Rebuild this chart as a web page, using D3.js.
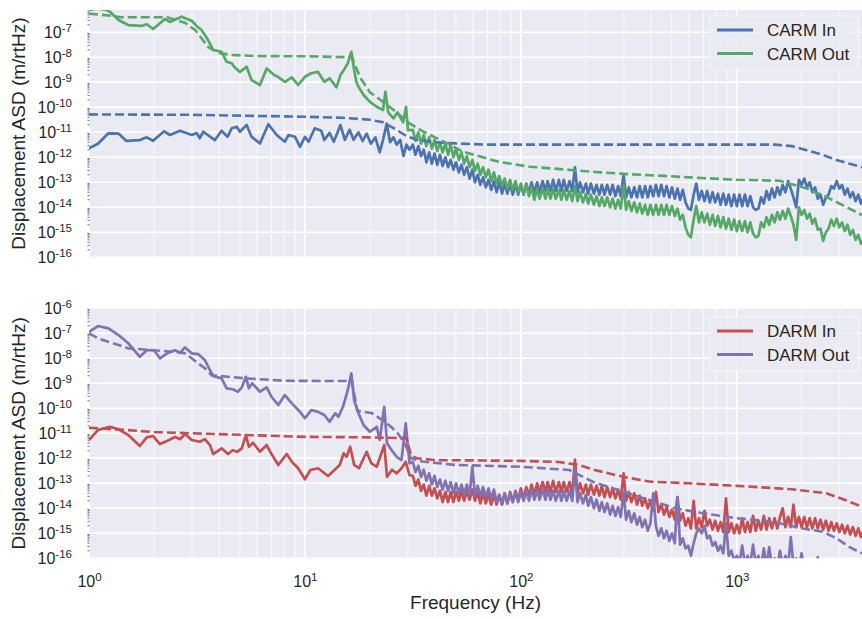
<!DOCTYPE html>
<html>
<head>
<meta charset="utf-8">
<script src="https://cdn.jsdelivr.net/npm/d3@7"></script>
<style>
  body { margin: 0; background: #fff; }
  svg { display: block; }
  text { font-family: "Liberation Sans", Arial, sans-serif; fill: #262626; }
</style>
</head>
<body>
<svg id="chart" width="862" height="619"></svg>
<script>
// ---- Data: amplitude spectral densities (m/rtHz) vs frequency (Hz) ----

// Shared frequency bins for the dense high-frequency part of the measured spectra
const hfFreq = [31.6,32.5,33.5,34.5,35.5,36.5,37.6,38.7,39.8,41.0,
  42.2,43.4,44.7,46.0,47.3,48.7,50.1,51.6,53.1,54.6,
  56.2,57.9,59.6,61.3,63.1,64.9,66.8,68.8,70.8,72.9,
  75.0,77.2,79.4,81.8,84.1,86.6,89.1,91.7,94.4,97.2,
  100,103,106,109,112,115.5,119,122,126,130,
  133,137,141,145,150,154,158,163,168,173,
  178,183,188,194,200,205,211,218,224,231,
  237,244,251,259,266,274,282,290,299,307,
  316,325,335,345,355,365,376,387,398,410,
  422,434,447,460,473,487,501,516,531,546,
  562,579,596,613,631,649,668,688,708,729,
  750,772,794,818,841,866,891,917,944,972,
  1000,1029,1059,1090,1122,1155,1189,1223,1259,1296,
  1334,1372,1413,1454,1496,1540,1585,1631,1679,1728,
  1778,1830,1884,1939,1995,2054,2113,2175,2239,2304,
  2371,2441,2512,2585,2661,2738,2818,2901,2985,3073,
  3162,3255,3350,3447,3548,3652,3758,3868,3981];

// CARM In — measured, low-frequency part [Hz, ASD]
const carmInLow = [[1,2.3e-12],[1.1,3.5e-12],[1.23,9.1e-12],[1.37,8.9e-12],[1.49,4.5e-12],[1.72,4.9e-12],
  [1.85,6.3e-12],[1.98,4.6e-12],[2.23,1.1e-11],[2.37,7.8e-12],[2.64,1.15e-11],[2.99,7.8e-12],[3.15,9.3e-12],
  [3.26,5.8e-12],[3.38,1.05e-11],[3.83,4.9e-12],[4.11,1.15e-11],[4.38,6.6e-12],[4.58,1.45e-11],[4.83,1.66e-11],
  [5.0,1.05e-11],[5.37,1.95e-11],[5.66,6.6e-12],[6.19,3.6e-12],[6.77,2.1e-11],[7.4,7.8e-12],[8.07,4.2e-12],
  [8.4,7.8e-12],[8.99,6.6e-12],[9.49,2.6e-12],[10,6.6e-12],[10.4,4.2e-12],[11.1,1.45e-11],[11.9,1.15e-11],
  [12.3,4.9e-12],[13.0,9.5e-12],[13.6,4.2e-12],[14.2,1.05e-11],[14.6,1.95e-11],[15.3,5.0e-12],[16.1,1.26e-11],
  [16.8,5.0e-12],[17.7,1.0e-11],[18.5,4.5e-12],[19.3,8.9e-12],[20.2,3.5e-12],[21.2,6.3e-12],[22.2,1.58e-12],
  [23.0,5.0e-12],[23.9,2.2e-11],[24.8,4.0e-12],[25.7,6.3e-12],[26.6,3.2e-12],[27.6,5.0e-12],[28.6,1.12e-12],
  [29.5,3.2e-12],[30.5,2.0e-12]];
// CARM In — measured, on hfFreq bins
const carmInHigh = [3.2e-12,1.26e-12,2.8e-12,1.12e-12,2.0e-12,6.3e-13,1.58e-12,5.6e-13,1.41e-12,5.0e-13,
  1.26e-12,4.5e-13,1.0e-12,4.0e-13,7.9e-13,3.2e-13,6.3e-13,2.5e-13,5.0e-13,2.0e-13,
  4.0e-13,1.41e-13,3.2e-13,1.0e-13,2.0e-13,7.9e-14,1.58e-13,6.3e-14,1.26e-13,5.0e-14,
  1.12e-13,4.0e-14,1.0e-13,3.5e-14,8.9e-14,3.5e-14,8.9e-14,3.2e-14,7.9e-14,3.2e-14,
  7.9e-14,3.2e-14,8.9e-14,3.5e-14,1.0e-13,4.0e-14,1.0e-13,4.0e-14,1.12e-13,4.5e-14,
  1.12e-13,4.5e-14,1.26e-13,4.5e-14,1.26e-13,4.5e-14,1.26e-13,4.5e-14,1.12e-13,4.5e-14,
  4.0e-13,4.0e-14,1.0e-13,4.0e-14,8.9e-14,3.5e-14,8.9e-14,3.5e-14,7.9e-14,3.2e-14,
  7.9e-14,3.2e-14,7.9e-14,3.2e-14,7.9e-14,2.8e-14,7.1e-14,2.8e-14,2.0e-13,2.5e-14,
  6.3e-14,2.5e-14,6.3e-14,2.5e-14,7.1e-14,2.5e-14,7.1e-14,2.5e-14,7.1e-14,2.8e-14,
  7.9e-14,2.8e-14,7.9e-14,2.8e-14,7.1e-14,2.5e-14,6.3e-14,2.2e-14,5.6e-14,2.0e-14,
  5.0e-14,1.58e-14,8.9e-15,7.9e-15,3.2e-14,8.9e-14,2.0e-14,4.5e-14,1.78e-14,4.5e-14,
  1.58e-14,4.0e-14,1.58e-14,3.5e-14,1.26e-14,3.5e-14,1.26e-14,3.2e-14,1.12e-14,3.2e-14,
  1.12e-14,3.2e-14,1.12e-14,3.2e-14,1.12e-14,2.8e-14,1.0e-14,7.9e-15,8.9e-15,2.5e-14,
  1.41e-14,4.5e-14,2.0e-14,5.6e-14,2.5e-14,6.3e-14,3.2e-14,7.9e-14,4.0e-14,1.12e-13,
  5.6e-14,2.5e-14,1.0e-14,1.26e-13,7.9e-14,1.41e-13,6.3e-14,1.0e-13,4.0e-14,6.3e-14,
  2.2e-14,3.2e-14,1.26e-14,2.5e-14,3.2e-14,7.1e-14,5.6e-14,1.12e-13,5.6e-14,7.9e-14,
  3.2e-14,5.6e-14,2.5e-14,4.0e-14,1.78e-14,3.2e-14,1.41e-14,2.5e-14,1.26e-14];
// CARM In — model (dashed)
const carmInModel = [[1,5.2e-11],[3,5.0e-11],[10,4.2e-11],[15,3.8e-11],[20,3.2e-11],[23,2.5e-11],[26,1.4e-11],
  [29.5,7.1e-12],[33,5.0e-12],[40,4.0e-12],[50,3.6e-12],[70,3.2e-12],[1500,3.2e-12],[1800,2.8e-12],
  [2090,1.95e-12],[2500,1.26e-12],[2890,7.8e-13],[3300,5.6e-13],[3800,4.0e-13]];

// CARM Out — measured, low-frequency part
const carmOutLow = [[1,7.9e-7],[1.1,8.9e-7],[1.2,7.9e-7],[1.25,6.6e-7],[1.37,3.1e-7],[1.52,1.95e-7],[1.75,1.8e-7],
  [1.85,2.1e-7],[1.98,1.35e-7],[2.25,3.4e-7],[2.37,2.6e-7],[2.68,4.2e-7],[2.99,2.9e-7],[3.15,1.8e-7],
  [3.32,1.23e-7],[3.56,4.9e-8],[3.76,1.95e-8],[4.11,1.66e-8],[4.34,6.6e-9],[4.58,5.8e-9],[4.7,4.2e-9],
  [5.0,2.6e-9],[5.37,4.2e-9],[5.66,1.23e-9],[6.19,7.8e-10],[6.65,3.6e-9],[7.2,1.95e-9],[7.5,1.66e-9],
  [8.07,1.05e-9],[8.7,1.58e-9],[9.3,7.8e-10],[10,1.66e-9],[10.7,2.3e-9],[11.5,2.6e-9],[12.3,1.05e-9],
  [13.0,1.45e-9],[14.0,6.3e-10],[14.6,1.95e-9],[15.3,3.6e-9],[15.8,5.8e-9],[16.4,1.66e-8],[16.9,3.2e-9],
  [17.3,1.05e-9],[17.7,6.6e-10],[18.7,3.1e-10],[20,1.66e-10],[21.5,1.05e-10],[23.0,7.8e-11],[23.6,4.2e-10],
  [24.3,6.3e-11],[25.7,3.6e-11],[26.8,6.3e-11],[28.5,2.5e-11],[29.4,1.05e-10],[30.0,1.23e-11]];
// CARM Out — measured, on hfFreq bins
const carmOutHigh = [1.26e-11,4.5e-12,1.0e-11,3.5e-12,7.9e-12,2.8e-12,6.3e-12,2.2e-12,5.0e-12,1.78e-12,
  4.0e-12,1.58e-12,3.5e-12,1.26e-12,3.2e-12,1.0e-12,2.2e-12,7.9e-13,1.58e-12,5.6e-13,
  1.12e-12,4.0e-13,7.9e-13,2.8e-13,5.6e-13,2.0e-13,4.0e-13,1.58e-13,3.2e-13,1.12e-13,
  2.5e-13,8.9e-14,1.78e-13,7.1e-14,1.41e-13,5.6e-14,1.26e-13,5.0e-14,1.12e-13,4.0e-14,
  8.9e-14,3.5e-14,7.9e-14,2.8e-14,6.3e-14,2.0e-14,5.6e-14,2.2e-14,5.6e-14,2.2e-14,
  5.6e-14,2.2e-14,5.6e-14,2.2e-14,5.0e-14,2.0e-14,5.0e-14,2.0e-14,4.5e-14,1.78e-14,
  7.1e-14,1.78e-14,4.0e-14,1.58e-14,3.5e-14,1.41e-14,3.2e-14,1.26e-14,2.8e-14,1.12e-14,
  2.5e-14,1.12e-14,2.5e-14,1.0e-14,2.2e-14,8.9e-15,2.0e-14,8.9e-15,7.9e-14,7.9e-15,
  1.78e-14,7.1e-15,1.58e-14,6.3e-15,1.41e-14,5.6e-15,1.26e-14,5.0e-15,1.26e-14,5.0e-15,
  1.26e-14,5.0e-15,1.26e-14,5.0e-15,1.26e-14,5.0e-15,1.12e-14,4.5e-15,8.9e-15,3.2e-15,
  5.0e-15,1.58e-15,7.9e-16,6.3e-16,3.2e-15,1.12e-14,2.5e-15,6.3e-15,2.5e-15,5.6e-15,
  2.0e-15,5.0e-15,1.78e-15,4.5e-15,1.58e-15,4.0e-15,1.41e-15,3.5e-15,1.26e-15,3.2e-15,
  1.12e-15,2.8e-15,1.12e-15,2.8e-15,1.0e-15,2.5e-15,8.9e-16,6.3e-16,7.1e-16,2.5e-15,
  1.58e-15,4.0e-15,2.0e-15,5.0e-15,2.5e-15,6.3e-15,3.2e-15,7.1e-15,3.5e-15,8.9e-15,
  4.5e-15,2.0e-15,5.0e-16,1.0e-14,5.0e-15,7.9e-15,3.5e-15,5.6e-15,2.2e-15,3.5e-15,
  1.26e-15,1.41e-15,4.5e-16,1.0e-15,1.41e-15,3.2e-15,1.78e-15,3.5e-15,1.58e-15,2.5e-15,
  1.12e-15,2.0e-15,7.9e-16,1.26e-15,5.0e-16,7.9e-16,3.5e-16,5.0e-16,2.5e-16];
// CARM Out — model (dashed)
const carmOutModel = [[1,5.6e-7],[1.3,4.5e-7],[1.4,4.0e-7],[2.3,4.0e-7],[2.59,2.9e-7],[2.78,2.4e-7],[3.1,1.23e-7],
  [3.32,5.8e-8],[3.56,2.6e-8],[4.0,1.5e-8],[4.58,1.23e-8],[6,1.12e-8],[10,1.1e-8],[16.5,1.0e-8],[18,1.58e-9],
  [20,4.0e-10],[22,2.2e-10],[24.8,1.0e-10],[26.5,6.3e-11],[30,2.5e-11],[35,1.12e-11],[40,6.3e-12],[47,3.2e-12],
  [54,1.66e-12],[79,6.6e-13],[110,4.2e-13],[157,3.3e-13],[220,2.6e-13],[320,2.1e-13],[460,1.8e-13],
  [600,1.58e-13],[1000,1.26e-13],[1580,1.15e-13],[2090,5.8e-14],[2600,2.6e-14],[3200,1.05e-14],[3800,4.9e-15]];

// DARM In — measured, low-frequency part
const darmInLow = [[1,5.4e-12],[1.1,1.35e-11],[1.25,1.82e-11],[1.37,1.45e-11],[1.52,8.5e-12],[1.72,3.1e-12],
  [1.85,6.9e-12],[1.98,7.8e-12],[2.13,3.7e-12],[2.35,5.4e-12],[2.5,7.2e-12],[2.64,5.8e-12],[2.78,9.3e-12],
  [2.99,5.4e-12],[3.26,4.6e-12],[3.44,5.8e-12],[3.63,3.4e-12],[3.76,1.48e-12],[4.11,2.5e-12],[4.4,1.48e-12],
  [4.63,2.1e-12],[4.85,1.82e-12],[5.1,2.5e-12],[5.33,8.5e-12],[5.5,2.9e-12],[5.75,4.2e-12],[6.19,1.82e-12],
  [6.65,3.4e-12],[7.0,1.48e-12],[7.53,5.4e-13],[8.23,1.48e-12],[8.7,7.2e-13],[9.3,4.0e-13],[10,1.45e-13],
  [10.6,3.4e-13],[11.5,4.0e-13],[12.8,1.95e-13],[14.5,5.4e-13],[15.1,1.58e-12],[15.6,1.15e-12],[16.2,2.9e-12],
  [16.9,5.4e-13],[17.8,4.0e-13],[19.3,1.82e-12],[20.3,6.3e-13],[21.5,4.6e-13],[23.3,3.4e-12],[24.0,1.82e-13],
  [25.3,3.5e-13],[26.6,2.5e-13],[28,4.0e-13],[29.3,7.2e-13],[30.5,2.1e-13]];
// DARM In — measured, on hfFreq bins
const darmInHigh = [2.0e-13,7.9e-14,1.41e-13,5.0e-14,8.9e-14,3.2e-14,7.9e-14,3.2e-14,6.3e-14,2.5e-14,
  5.0e-14,1.78e-14,4.5e-14,1.78e-14,4.5e-14,1.78e-14,4.5e-14,2.0e-14,5.0e-14,2.0e-14,
  5.0e-14,2.2e-14,5.6e-14,2.0e-14,4.5e-14,1.58e-14,4.0e-14,1.58e-14,3.5e-14,1.41e-14,
  3.5e-14,1.41e-14,3.5e-14,1.41e-14,4.0e-14,1.58e-14,4.5e-14,1.78e-14,5.0e-14,2.2e-14,
  6.3e-14,2.5e-14,7.1e-14,3.2e-14,8.9e-14,3.5e-14,1.0e-13,4.0e-14,1.12e-13,4.5e-14,
  1.12e-13,4.5e-14,1.26e-13,4.5e-14,1.12e-13,4.5e-14,1.12e-13,4.5e-14,1.12e-13,4.0e-14,
  8.9e-13,4.0e-14,1.0e-13,4.0e-14,8.9e-14,3.5e-14,8.9e-14,3.5e-14,7.9e-14,3.2e-14,
  7.9e-14,2.8e-14,7.1e-14,2.8e-14,6.3e-14,2.5e-14,5.6e-14,2.2e-14,2.5e-13,2.0e-14,
  4.5e-14,1.78e-14,4.0e-14,1.41e-14,3.2e-14,1.26e-14,2.5e-14,1.0e-14,2.0e-14,7.9e-15,
  4.5e-14,7.1e-15,1.41e-14,5.6e-15,1.12e-14,4.5e-15,8.9e-15,3.5e-15,2.8e-14,3.2e-15,
  6.3e-15,2.0e-15,4.0e-15,1.58e-15,2.0e-14,1.58e-15,4.0e-15,1.78e-15,7.9e-15,2.0e-15,
  3.5e-15,1.41e-15,3.2e-15,1.26e-15,2.8e-15,1.12e-15,2.5e-14,1.12e-15,2.5e-15,1.0e-15,
  2.2e-15,1.0e-15,4.0e-15,1.12e-15,2.8e-15,1.12e-15,5.0e-15,1.26e-15,3.2e-15,1.41e-15,
  5.0e-15,1.41e-15,4.0e-15,1.58e-15,4.0e-15,1.58e-15,4.5e-15,1.0e-14,1.78e-15,4.5e-15,
  1.78e-15,1.41e-14,1.78e-15,4.5e-15,1.78e-15,4.5e-15,1.78e-15,4.0e-15,1.58e-15,4.0e-15,
  1.58e-15,3.5e-15,1.41e-15,3.2e-15,1.26e-15,2.8e-15,1.26e-15,2.5e-15,1.12e-15,2.2e-15,
  1.0e-15,2.0e-15,8.9e-16,1.78e-15,7.9e-16,1.58e-15,7.1e-16,1.41e-15,6.3e-16];
// DARM In — model (dashed)
const darmInModel = [[1,1.66e-11],[1.5,1.35e-11],[2,1.12e-11],[3,1.0e-11],[6,8.3e-12],[10,7.2e-12],[20,6.9e-12],
  [29.5,6.3e-12],[31,1.26e-12],[33,1.0e-12],[40,8.5e-13],[100,7.9e-13],[150,7.1e-13],[185,5.4e-13],
  [220,3.4e-13],[297,1.82e-13],[400,1.15e-13],[600,1.0e-13],[1000,7.9e-14],[1800,5.8e-14],[2600,4.0e-14],
  [3200,2.1e-14],[3800,1.15e-14]];

// DARM Out — measured, low-frequency part
const darmOutLow = [[1,1.15e-7],[1.1,1.95e-7],[1.23,1.58e-7],[1.37,8.5e-8],[1.52,4.0e-8],[1.72,1.15e-8],
  [1.85,2.1e-8],[2.0,2.1e-8],[2.13,1.0e-8],[2.3,1.58e-8],[2.5,2.1e-8],[2.64,1.66e-8],[2.78,2.75e-8],
  [2.99,1.58e-8],[3.2,1.48e-8],[3.44,8.5e-9],[3.63,3.4e-9],[3.76,1.95e-9],[4.11,1.58e-9],[4.34,6.3e-10],
  [4.63,5.8e-10],[4.9,4.6e-10],[5.1,6.9e-10],[5.33,1.82e-9],[5.5,6.3e-10],[5.7,1.0e-9],[6.19,4.6e-10],
  [6.65,6.9e-10],[7.0,2.9e-10],[7.53,1.35e-10],[8.07,3.4e-10],[8.7,1.58e-10],[9.49,7.2e-11],[10,4.0e-11],
  [10.7,8.5e-11],[11.5,7.2e-11],[12.3,5.4e-11],[13.0,2.9e-11],[13.8,6.3e-11],[14.3,4.6e-11],[15.0,1.15e-10],
  [15.8,5.4e-10],[16.4,2.5e-9],[16.9,2.1e-10],[17.7,6.3e-11],[18.7,2.1e-11],[20,1.15e-11],[21.5,1.82e-11],
  [22.2,5.4e-12],[23.3,1.15e-10],[24.0,4.0e-12],[25.3,2.0e-12],[26.6,1.15e-12],[28,8.5e-13],[29.3,2.5e-11],
  [30.5,6.3e-13]];
// DARM Out — measured, on hfFreq bins
const darmOutHigh = [7.1e-13,2.8e-13,5.0e-13,1.78e-13,3.5e-13,1.26e-13,2.5e-13,8.9e-14,2.0e-13,7.1e-14,
  1.41e-13,5.6e-14,1.26e-13,5.0e-14,1.12e-13,4.0e-14,1.0e-13,4.0e-14,8.9e-14,3.5e-14,
  8.9e-14,3.5e-14,4.5e-13,3.2e-14,7.9e-14,3.2e-14,7.1e-14,2.8e-14,6.3e-14,2.5e-14,
  5.6e-14,1.78e-14,3.2e-14,1.41e-14,4.0e-14,1.58e-14,4.0e-14,1.78e-14,4.5e-14,1.78e-14,
  4.5e-14,2.0e-14,5.0e-14,2.0e-14,5.6e-14,2.2e-14,5.6e-14,2.2e-14,5.6e-14,2.2e-14,
  5.6e-14,2.2e-14,5.0e-14,2.0e-14,5.0e-14,2.0e-14,5.0e-14,2.0e-14,5.0e-14,2.0e-14,
  4.0e-13,1.78e-14,4.0e-14,1.58e-14,3.5e-14,1.26e-14,2.8e-14,1.0e-14,2.2e-14,7.9e-15,
  1.78e-14,7.1e-15,1.58e-14,5.6e-15,1.26e-14,5.0e-15,1.12e-14,4.5e-15,4.5e-14,3.5e-15,
  7.9e-15,2.8e-15,6.3e-15,2.2e-15,4.5e-15,1.78e-15,3.5e-15,1.26e-15,2.5e-15,4.0e-14,
  2.0e-15,7.9e-16,1.58e-15,6.3e-16,1.26e-15,5.0e-16,1.0e-15,4.0e-16,2.8e-14,3.5e-16,
  6.3e-16,2.5e-16,3.2e-16,1.26e-16,4.0e-16,1.0e-15,1.58e-15,1.0e-15,2.0e-15,6.3e-16,
  7.9e-16,3.2e-16,4.5e-16,2.0e-16,3.2e-16,1.58e-16,2.5e-15,1.26e-16,2.0e-16,7.9e-17,
  1.26e-16,6.3e-17,3.2e-16,6.3e-17,1.26e-16,6.3e-17,3.5e-16,6.3e-17,1.26e-16,5.0e-17,
  2.5e-16,5.0e-17,2.8e-16,5.0e-17,1.0e-16,5.0e-17,2.0e-16,5.0e-17,1.26e-16,5.0e-17,
  7.1e-16,5.0e-17,1.0e-16,4.0e-17,1.58e-16,4.0e-17,7.9e-17,3.2e-17,5.0e-17,3.2e-17,
  1.12e-16,3.2e-17,4.0e-17,2.5e-17,3.2e-17,2.5e-17,2.5e-17,2.0e-17,2.0e-17,2.0e-17,
  1.58e-17,1.58e-17,1.58e-17,1.26e-17,1.26e-17,1.26e-17,1.0e-17,1.0e-17,1.0e-17];
// DARM Out — model (dashed)
const darmOutModel = [[1,1.0e-7],[1.1,6.3e-8],[1.37,3.4e-8],[1.52,2.5e-8],[2.0,2.1e-8],[2.5,1.8e-8],[2.78,1.58e-8],
  [2.99,1.0e-8],[3.2,6.3e-9],[3.44,4.0e-9],[3.7,2.1e-9],[4.4,1.82e-9],[5.3,1.58e-9],[8,1.26e-9],[16.5,1.23e-9],
  [17.5,7.9e-11],[20.5,6.3e-11],[24,2.5e-11],[26.6,1.15e-11],[29,4.0e-12],[31,1.0e-12],[35,7.4e-13],
  [50,5.4e-13],[100,4.6e-13],[168,3.4e-13],[215,1.15e-13],[297,4.6e-14],[420,1.8e-14],[520,1.0e-14],
  [700,6.3e-15],[1000,4.0e-15],[1300,3.2e-15],[1580,2.5e-15],[2000,1.58e-15],[2500,1.15e-15],[2900,6.3e-16],
  [3300,2.9e-16],[3800,1.58e-16]];

// Axis tick values
const xTicks = [1, 10, 100, 1000];
const yDecades = [1e-16,1e-15,1e-14,1e-13,1e-12,1e-11,1e-10,1e-9,1e-8,1e-7,1e-6];

// ---- Drawing ----
const COLORS = { blue: "#4C72B0", green: "#55A868", red: "#C44E52", purple: "#8172B2" };
const svg = d3.select("#chart");
const L = 89, R = 862;
const x = d3.scaleLog().domain([1, 3800]).range([L, R]);

const joinSpectrum = (low, high) => low.concat(d3.zip(hfFreq, high));

const panels = [
  { id: "top", clipTop: 10, rangeTop: 7.3, rangeBottom: 257.3, legendY: 16,
    solids: [[joinSpectrum(carmInLow, carmInHigh), COLORS.blue], [joinSpectrum(carmOutLow, carmOutHigh), COLORS.green]],
    models: [[carmInModel, COLORS.blue], [carmOutModel, COLORS.green]],
    legend: [["CARM In", COLORS.blue], ["CARM Out", COLORS.green]], xLabels: false },
  { id: "bottom", clipTop: 308.3, rangeTop: 308.3, rangeBottom: 558.3, legendY: 317,
    solids: [[joinSpectrum(darmInLow, darmInHigh), COLORS.red], [joinSpectrum(darmOutLow, darmOutHigh), COLORS.purple]],
    models: [[darmInModel, COLORS.red], [darmOutModel, COLORS.purple]],
    legend: [["DARM In", COLORS.red], ["DARM Out", COLORS.purple]], xLabels: true }
];

const minorX = [];
for (let d = 0; d <= 3; d++) for (let m = 2; m <= 9; m++) { const v = m * Math.pow(10, d); if (v < 3800) minorX.push(v); }

function sup(sel, base, exp) {
  sel.text(null);
  sel.append("tspan").text(base);
  sel.append("tspan").attr("dy", "-0.5em").attr("font-size", "0.72em").text(exp);
}

panels.forEach(p => {
  const y = d3.scaleLog().domain([1e-16, 1e-6]).range([p.rangeBottom, p.rangeTop]);
  const g = svg.append("g");
  const h = p.rangeBottom - p.clipTop;

  g.append("rect").attr("x", L).attr("y", p.clipTop).attr("width", R - L).attr("height", h).attr("fill", "#EAEAF2");
  svg.append("clipPath").attr("id", "clip-" + p.id)
    .append("rect").attr("x", L).attr("y", p.clipTop).attr("width", R - L).attr("height", h);

  const grid = g.append("g").attr("clip-path", `url(#clip-${p.id})`);
  grid.selectAll(".minor").data(minorX).join("line")
    .attr("x1", d => x(d)).attr("x2", d => x(d)).attr("y1", p.clipTop).attr("y2", p.rangeBottom)
    .attr("stroke", "#fff").attr("stroke-width", 0.8);
  grid.selectAll(".major").data(xTicks).join("line")
    .attr("x1", d => x(d)).attr("x2", d => x(d)).attr("y1", p.clipTop).attr("y2", p.rangeBottom)
    .attr("stroke", "#fff").attr("stroke-width", 1.6);
  grid.selectAll(".hmajor").data(yDecades).join("line")
    .attr("x1", L).attr("x2", R).attr("y1", d => y(d)).attr("y2", d => y(d))
    .attr("stroke", "#fff").attr("stroke-width", 1.6);

  // small minor ticks along the left spine
  const minorY = [];
  for (let e = -16; e < -6; e++) for (let m = 2; m <= 9; m++) minorY.push(m * Math.pow(10, e));
  g.selectAll(".ymin").data(minorY.filter(v => y(v) >= p.clipTop)).join("line")
    .attr("x1", L - 1.5).attr("x2", L + 0.5).attr("y1", d => y(d)).attr("y2", d => y(d))
    .attr("stroke", "#444").attr("stroke-width", 0.8);

  const line = d3.line().x(d => x(d[0])).y(d => y(d[1]));
  const plot = g.append("g").attr("clip-path", `url(#clip-${p.id})`);
  p.solids.forEach(([data, color]) => {
    plot.append("path").attr("d", line(data)).attr("fill", "none").attr("stroke", color)
      .attr("stroke-width", 2.7).attr("stroke-linejoin", "round");
  });
  p.models.forEach(([data, color]) => {
    plot.append("path").attr("d", line(data)).attr("fill", "none").attr("stroke", color)
      .attr("stroke-width", 2.6).attr("stroke-dasharray", "9,4");
  });

  // y axis tick labels
  const yAxis = d3.axisLeft(y).tickValues(yDecades.filter(v => y(v) >= p.clipTop - 1)).tickSize(0).tickPadding(17);
  const ya = g.append("g").attr("transform", `translate(${L},0)`).call(yAxis);
  ya.select(".domain").remove();
  ya.selectAll(".tick text").attr("font-size", 16).attr("fill", "#262626")
    .each(function(d) { sup(d3.select(this), "10", String(Math.round(Math.log10(d)))); });

  if (p.xLabels) {
    const xAxis = d3.axisBottom(x).tickValues(xTicks).tickSize(0).tickPadding(17);
    const xa = g.append("g").attr("transform", `translate(0,${p.rangeBottom})`).call(xAxis);
    xa.select(".domain").remove();
    xa.selectAll(".tick text").attr("font-size", 16).attr("fill", "#262626")
      .each(function(d) { sup(d3.select(this), "10", String(Math.round(Math.log10(d)))); });
  }

  // y axis title
  const cy = (p.clipTop + p.rangeBottom) / 2;
  g.append("text").attr("transform", `translate(25,${cy}) rotate(-90)`).attr("text-anchor", "middle")
    .attr("font-size", 19).text("Displacement ASD (m/rtHz)");

  // legend
  const lg = g.append("g").attr("transform", `translate(710,${p.legendY})`);
  lg.append("rect").attr("width", 148).attr("height", 54).attr("rx", 2)
    .attr("fill", "#EAEAF2").attr("fill-opacity", 0.85).attr("stroke", "#F6F6F9").attr("stroke-width", 1);
  p.legend.forEach(([name, color], i) => {
    const ly = 14 + i * 23.5;
    lg.append("line").attr("x1", 7).attr("x2", 43).attr("y1", ly).attr("y2", ly)
      .attr("stroke", color).attr("stroke-width", 3);
    lg.append("text").attr("x", 57).attr("y", ly + 6).attr("font-size", 17).text(name);
  });
});

svg.append("text").attr("x", (L + R) / 2).attr("y", 609).attr("text-anchor", "middle")
  .attr("font-size", 19).text("Frequency (Hz)");
</script>
</body>
</html>
